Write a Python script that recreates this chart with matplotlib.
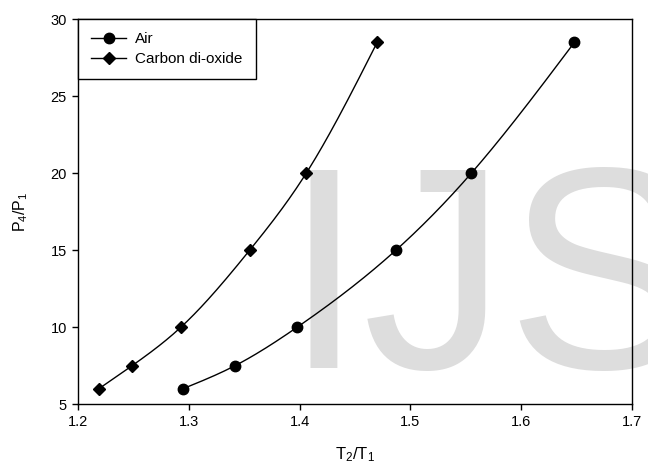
import numpy as np
import matplotlib
matplotlib.use("Agg")
import matplotlib.pyplot as plt

plt.rcParams['font.family'] = ['Liberation Sans', 'DejaVu Sans']
plt.rcParams['mathtext.fontset'] = 'custom'
plt.rcParams['mathtext.rm'] = 'Liberation Sans'
plt.rcParams['mathtext.default'] = 'regular'

# Data
air_x = [1.295, 1.342, 1.398, 1.487, 1.555, 1.648]
air_y = [6, 7.5, 10, 15, 20, 28.5]
co2_x = [1.219, 1.249, 1.293, 1.355, 1.406, 1.470]
co2_y = [6, 7.5, 10, 15, 20, 28.5]
x_ticks = [1.2, 1.3, 1.4, 1.5, 1.6, 1.7]
y_ticks = [5, 10, 15, 20, 25, 30]


def natural_spline(x, y, n=200):
    x = np.asarray(x, float)
    y = np.asarray(y, float)
    k = len(x)
    h = np.diff(x)
    A = np.zeros((k, k))
    b = np.zeros(k)
    A[0, 0] = 1
    A[-1, -1] = 1
    for i in range(1, k - 1):
        A[i, i - 1] = h[i - 1]
        A[i, i] = 2 * (h[i - 1] + h[i])
        A[i, i + 1] = h[i]
        b[i] = 3 * ((y[i + 1] - y[i]) / h[i] - (y[i] - y[i - 1]) / h[i - 1])
    c = np.linalg.solve(A, b)
    xs = np.linspace(x[0], x[-1], n)
    ys = np.empty_like(xs)
    for j, xv in enumerate(xs):
        i = min(np.searchsorted(x, xv, side='right') - 1, k - 2)
        dx = xv - x[i]
        bi = (y[i + 1] - y[i]) / h[i] - h[i] * (2 * c[i] + c[i + 1]) / 3
        di = (c[i + 1] - c[i]) / (3 * h[i])
        ys[j] = y[i] + bi * dx + c[i] * dx ** 2 + di * dx ** 3
    return xs, ys


fig = plt.figure(figsize=(6.48, 4.68), dpi=100, facecolor='white')
ax = fig.add_axes([78 / 648, 1 - 404 / 468, (632 - 78) / 648, (404 - 19.3) / 468])
ax.set_zorder(1)
ax.patch.set_alpha(0)

# watermark
fig.text(284 / 648, 1 - 368 / 468, 'IJS', fontsize=207, color='#dddddd',
         ha='left', va='baseline', zorder=0)

sx, sy = natural_spline(air_x, air_y)
ax.plot(sx, sy, color='black', lw=1.0)
sx, sy = natural_spline(co2_x, co2_y)
ax.plot(sx, sy, color='black', lw=1.0)

ax.plot(air_x, air_y, 'o', color='black', markersize=7.5)
ax.plot(co2_x, co2_y, 'D', color='black', markersize=6.5)

# legend proxies
h1, = ax.plot([], [], '-o', color='black', lw=1.0, markersize=7.5, label='Air')
h2, = ax.plot([], [], '-D', color='black', lw=1.0, markersize=6.5, label='Carbon di-oxide')
leg = ax.legend(handles=[h1, h2], loc='upper left', bbox_to_anchor=(0, 1),
                borderaxespad=0, fancybox=False, framealpha=1, edgecolor='black',
                fontsize=11, handlelength=2.3, borderpad=0.85, labelspacing=0.4,
                handletextpad=0.6)
leg.get_frame().set_linewidth(1.0)

ax.set_xlim(1.2, 1.7)
ax.set_ylim(5, 30)
ax.set_xticks(x_ticks)
ax.set_xticklabels([f'{v:.1f}' for v in x_ticks])
ax.set_yticks(y_ticks)
ax.tick_params(direction='out', length=4.5, width=1, labelsize=10.5, top=False, right=False)
for s in ax.spines.values():
    s.set_linewidth(1.0)
    s.set_color('black')

ax.set_xlabel(r'T$_2$/T$_1$', fontsize=12, labelpad=12)
ax.set_ylabel(r'P$_4$/P$_1$', fontsize=11.5, labelpad=15)

fig.savefig('out.png', dpi=100, facecolor='white')
